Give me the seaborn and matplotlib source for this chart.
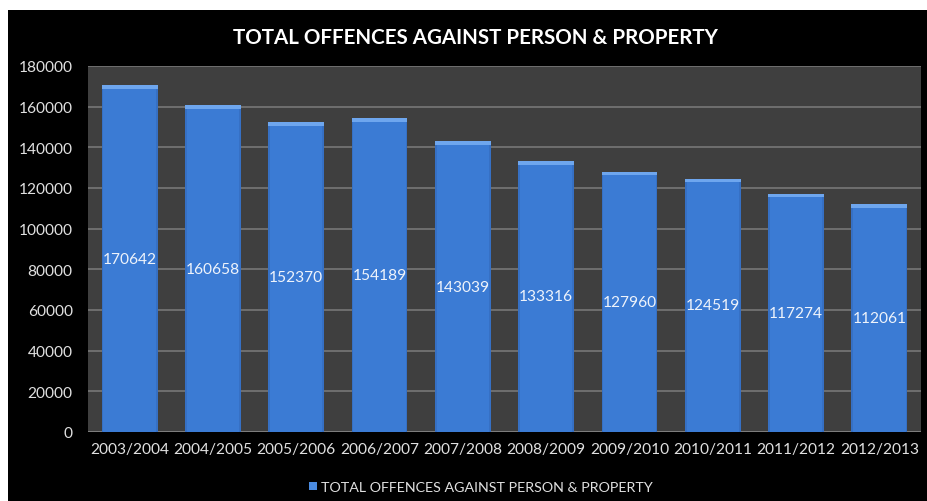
import matplotlib
matplotlib.use("Agg")
import matplotlib.pyplot as plt
from matplotlib.patches import Rectangle
import seaborn as sns
import pandas as pd

years = ["2003/2004", "2004/2005", "2005/2006", "2006/2007", "2007/2008",
         "2008/2009", "2009/2010", "2010/2011", "2011/2012", "2012/2013"]
offences = [170642, 160658, 152370, 154189, 143039,
            133316, 127960, 124519, 117274, 112061]
series_name = "TOTAL OFFENCES AGAINST PERSON & PROPERTY"
y_ticks = [0, 20000, 40000, 60000, 80000, 100000, 120000, 140000, 160000, 180000]

df = pd.DataFrame({"year": years, "offences": offences})

sns.set_theme(style="dark")
plt.rcParams["font.family"] = ["Lato", "DejaVu Sans"]

W, H = 927, 502
fig = plt.figure(figsize=(W / 100, H / 100), dpi=100)
fig.patch.set_facecolor("white")
# black chart frame, leaving a thin white margin top and left
fig.add_artist(Rectangle((8 / W, 0), 1 - 8 / W, 1 - 11 / H,
                         transform=fig.transFigure, facecolor="black",
                         edgecolor="none", zorder=-10))

ax = fig.add_axes([88 / W, 1 - 433 / H, (921 - 88) / W, (433 - 67) / H])
ax.set_facecolor("#3f3f3f")

bar_color = "#3b7bd4"
sns.barplot(data=df, x="year", y="offences", color=bar_color, width=0.67,
            saturation=1, edgecolor="none", ax=ax, zorder=3)

# bevelled highlight on top of each bar and value labels at the bar middle
for patch, val in zip(ax.patches, offences):
    x0, w = patch.get_x(), patch.get_width()
    ax.add_patch(Rectangle((x0, val - 1800), w, 1800, facecolor="#6ea6ee",
                           edgecolor="none", zorder=4))
    ax.add_patch(Rectangle((x0, 0), w * 0.03, val - 1800, facecolor="#3670c4",
                           edgecolor="none", zorder=4))
    ax.add_patch(Rectangle((x0 + w * 0.97, 0), w * 0.03, val - 1800,
                           facecolor="#3670c4", edgecolor="none", zorder=4))
    ax.text(x0 + w / 2, val / 2, f"{val}", ha="center", va="center",
            color="#eef3fb", fontsize=11.2, zorder=5)

ax.set_ylim(0, 180000)
ax.set_xlim(-0.5, len(years) - 0.5)
ax.set_yticks(y_ticks)
ax.set_yticklabels([str(t) for t in y_ticks])
ax.grid(axis="y", color="#777777", linewidth=1.2, zorder=1)
ax.grid(axis="x", visible=False)
ax.set_xlabel("")
ax.set_ylabel("")
for s in ax.spines.values():
    s.set_visible(False)
ax.axhline(0, color="#808080", linewidth=1.2, zorder=2)
ax.tick_params(axis="both", colors="#e0e0e0", labelsize=11.2, length=0)
ax.tick_params(axis="y", pad=11)
ax.tick_params(axis="x", pad=7)

fig.text(475 / W, 1 - 38 / H, series_name,
         ha="center", va="center", color="white", fontsize=14.8,
         fontweight="bold")

# legend entry below the axis labels
legend_handle = Rectangle((0, 0), 1, 1, facecolor="#4a8be0", edgecolor="none")
fig.legend([legend_handle], [series_name], loc="center",
           bbox_to_anchor=(481 / W, 1 - 488 / H), frameon=False,
           fontsize=10.3, labelcolor="#e0e0e0", handlelength=0.55,
           handleheight=0.55, handletextpad=0.3)

fig.savefig("out.png", dpi=100, facecolor=fig.get_facecolor())
